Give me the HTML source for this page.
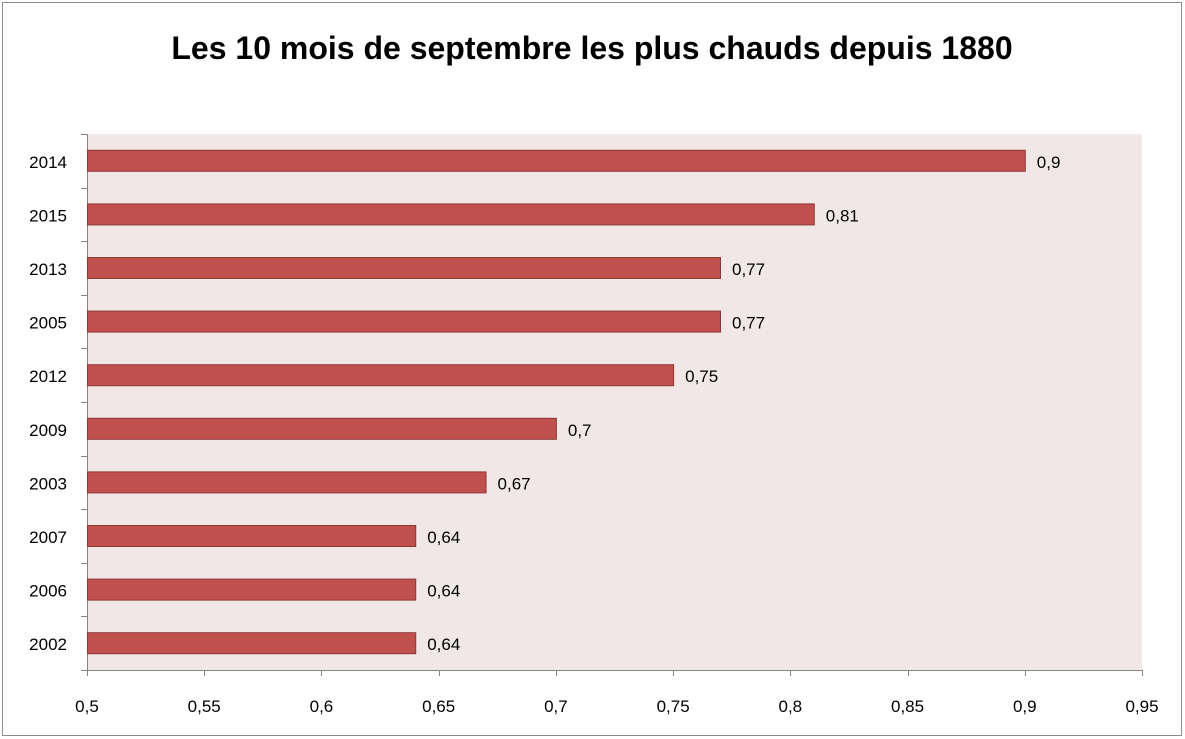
<!DOCTYPE html>
<html><head><meta charset="utf-8"><style>
html,body{margin:0;padding:0;background:#fff}
svg{display:block}
text{font-family:"Liberation Sans",Calibri,sans-serif}
</style></head><body>
<svg width="1185" height="739" viewBox="0 0 1185 739" xmlns="http://www.w3.org/2000/svg">
<rect x="2.5" y="2.5" width="1179" height="733" fill="#fff" stroke="#8c8c8c" stroke-width="1"/>
<text x="592" y="59" text-anchor="middle" font-size="32" font-weight="bold" fill="#000">Les 10 mois de septembre les plus chauds depuis 1880</text>
<rect x="87" y="134" width="1055" height="536" fill="#f2e7e7"/>
<g stroke="#868686" stroke-width="1" fill="none">
<line x1="87.5" y1="134" x2="87.5" y2="670"/>
<line x1="87" y1="670.5" x2="1142" y2="670.5"/>
</g>
<g id="g" font-size="17" fill="#000"></g>
<script>
var ns="http://www.w3.org/2000/svg",g=document.getElementById('g');
function el(t,a,txt){var e=document.createElementNS(ns,t);for(var k in a)e.setAttribute(k,a[k]);if(txt)e.textContent=txt;g.appendChild(e);return e;}
var data=[["2014",0.9],["2015",0.81],["2013",0.77],["2005",0.77],["2012",0.75],["2009",0.7],["2003",0.67],["2007",0.64],["2006",0.64],["2002",0.64]];
function X(v){return 87+(v-0.5)/0.45*1055;}
for(var i=0;i<=10;i++){var y=134+i*53.6;el('line',{x1:81,y1:Math.round(y)+0.5,x2:87,y2:Math.round(y)+0.5,stroke:'#868686'});}
data.forEach(function(d,i){var c=134+(i+0.5)*53.6;var w=X(d[1])-87;
el('rect',{x:87.5,y:c-10.5,width:w,height:21,fill:'#c0504d',stroke:'#8c3836','stroke-width':1});
el('text',{x:67,y:c+7,'text-anchor':'end'},d[0]);
el('text',{x:X(d[1])+12,y:c+7},String(d[1]).replace('.',','));});
var t=["0,5","0,55","0,6","0,65","0,7","0,75","0,8","0,85","0,9","0,95"];
t.forEach(function(s,i){var x=X(0.5+i*0.05);el('line',{x1:Math.round(x)+0.5,y1:670,x2:Math.round(x)+0.5,y2:676,stroke:'#868686'});
el('text',{x:x,y:712,'text-anchor':'middle'},s);});
</script>
</svg>
</body></html>
